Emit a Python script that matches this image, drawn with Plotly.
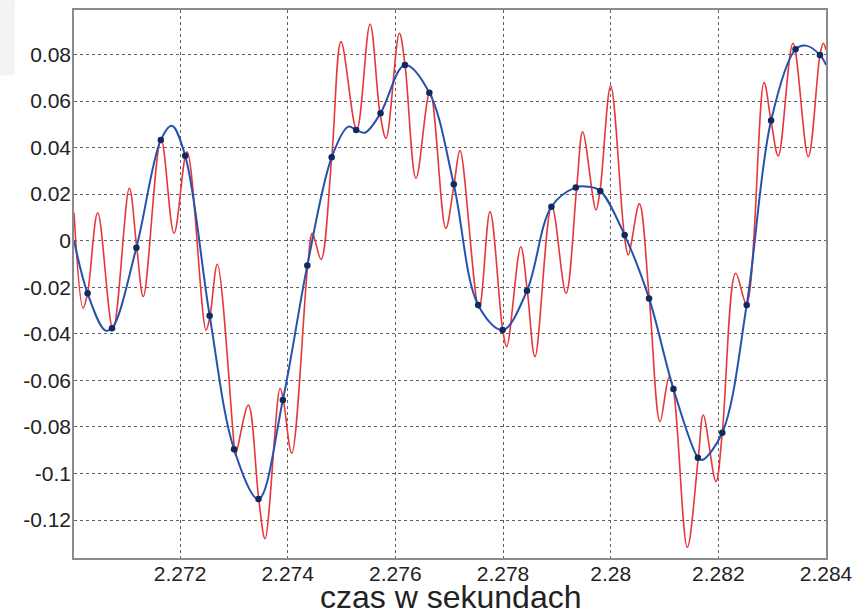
import plotly.graph_objects as go

# Red curve (original signal) - read points: time [s], amplitude
red_t = [2.270031, 2.270198, 2.270282, 2.270471, 2.270755, 2.271058, 2.271196, 2.271318,
         2.271647, 2.271889, 2.272130, 2.272483, 2.272557, 2.272693, 2.273012, 2.273031,
         2.273269, 2.273462, 2.273579, 2.273858, 2.273919, 2.274075, 2.274372, 2.274458,
         2.274619, 2.274818, 2.274991, 2.275282, 2.275529, 2.275715, 2.275827, 2.276074,
         2.276179, 2.276384, 2.276644, 2.276936, 2.277090, 2.277201, 2.277554, 2.277758,
         2.277994, 2.278069, 2.278329, 2.278451, 2.278594, 2.278904, 2.279170, 2.279369,
         2.279480, 2.279727, 2.279802, 2.280000, 2.280253, 2.280327, 2.280532, 2.280717,
         2.280916, 2.281083, 2.281163, 2.281423, 2.281628, 2.281720, 2.281956, 2.282073,
         2.282322, 2.282523, 2.282848, 2.282978, 2.283114, 2.283387, 2.283671, 2.283888,
         2.283950, 2.284000]
red_y = [0.0120, -0.0290, -0.0226, 0.0120, -0.0380, 0.0225, -0.0030, -0.0240,
         0.0436, 0.0032, 0.0382, -0.0384, -0.0322, -0.0101, -0.0896, -0.0920,
         -0.0706, -0.1110, -0.1280, -0.0634, -0.0684, -0.0913, -0.0107, 0.0032,
         -0.0080, 0.0358, 0.0855, 0.0476, 0.0931, 0.0547, 0.0440, 0.0891,
         0.0755, 0.0268, 0.0640, 0.0053, 0.0242, 0.0387, -0.0290, 0.0125,
         -0.0384, -0.0455, -0.0026, -0.0215, -0.0498, 0.0150, -0.0226, 0.0229,
         0.0468, 0.0132, 0.0214, 0.0665, 0.0024, -0.0061, 0.0158, -0.0248,
         -0.0777, -0.0587, -0.0637, -0.1317, -0.0932, -0.0749, -0.1035, -0.0825,
         -0.0140, -0.0272, 0.0679, 0.0516, 0.0364, 0.0848, 0.0361, 0.0798,
         0.0848, 0.0820]

# Sample points (dots)
sample_t = [2.270282, 2.270736, 2.271189, 2.271643, 2.272096, 2.272550, 2.273003, 2.273457,
            2.273910, 2.274364, 2.274817, 2.275271, 2.275724, 2.276178, 2.276631, 2.277085,
            2.277538, 2.277992, 2.278445, 2.278899, 2.279352, 2.279806, 2.280259, 2.280713,
            2.281166, 2.281620, 2.282073, 2.282527, 2.282980, 2.283434, 2.283887]
sample_y = [-0.0226, -0.0376, -0.0030, 0.0433, 0.0365, -0.0322, -0.0896, -0.1110,
            -0.0684, -0.0107, 0.0358, 0.0476, 0.0547, 0.0755, 0.0636, 0.0242,
            -0.0276, -0.0384, -0.0215, 0.0146, 0.0229, 0.0214, 0.0024, -0.0248,
            -0.0637, -0.0932, -0.0825, -0.0276, 0.0516, 0.0822, 0.0798]

# Reconstructed (blue) curve - read points
blue_t = [2.270031, 2.270282, 2.270607, 2.270736, 2.271189, 2.271643, 2.271846, 2.272096,
          2.272550, 2.273003, 2.273457, 2.273910, 2.274364, 2.274817, 2.275127, 2.275271,
          2.275437, 2.275724, 2.276178, 2.276631, 2.277085, 2.277538, 2.277992, 2.278445,
          2.278899, 2.279352, 2.279579, 2.279806, 2.280259, 2.280713, 2.281166, 2.281620,
          2.281696, 2.282073, 2.282527, 2.282980, 2.283434, 2.283628, 2.283887, 2.284000]
blue_y = [0.0000, -0.0226, -0.0385, -0.0376, -0.0030, 0.0433, 0.0494, 0.0365,
          -0.0322, -0.0896, -0.1110, -0.0684, -0.0107, 0.0358, 0.0490, 0.0476,
          0.0464, 0.0547, 0.0755, 0.0636, 0.0242, -0.0276, -0.0384, -0.0215,
          0.0146, 0.0229, 0.0232, 0.0214, 0.0024, -0.0248, -0.0637, -0.0932,
          -0.0942, -0.0825, -0.0276, 0.0516, 0.0822, 0.0838, 0.0798, 0.0755]

x_ticks = [2.272, 2.274, 2.276, 2.278, 2.280, 2.282, 2.284]
x_labels = ["2.272", "2.274", "2.276", "2.278", "2.28", "2.282", "2.284"]
y_ticks = [-0.12, -0.10, -0.08, -0.06, -0.04, -0.02, 0.0, 0.02, 0.04, 0.06, 0.08]
y_labels = ["-0.12", "-0.1", "-0.08", "-0.06", "-0.04", "-0.02", "0", "0.02", "0.04", "0.06", "0.08"]
x_title = "czas w sekundach"

FONT = "Liberation Sans, Arial, Helvetica, sans-serif"

fig = go.Figure()
fig.add_trace(go.Scatter(x=red_t, y=red_y, mode="lines",
                         line=dict(color="#e8373a", width=1.6, shape="spline", smoothing=1.0),
                         showlegend=False, hoverinfo="skip"))
fig.add_trace(go.Scatter(x=blue_t, y=blue_y, mode="lines",
                         line=dict(color="#2652ad", width=2.0, shape="spline", smoothing=1.0),
                         showlegend=False, hoverinfo="skip"))
fig.add_trace(go.Scatter(x=sample_t, y=sample_y, mode="markers",
                         marker=dict(color="#0f2a5e", size=6.5, symbol="circle"),
                         showlegend=False, hoverinfo="skip"))

fig.update_layout(
    width=855, height=614,
    margin=dict(l=74, r=29, t=10, b=56),
    paper_bgcolor="white", plot_bgcolor="white",
    font=dict(family=FONT, color="#222222", size=21),
    shapes=[dict(type="rect", xref="paper", yref="paper",
                 x0=-0.0984, x1=-0.0785, y0=0.881, y1=1.018,
                 fillcolor="#f3f3f3", line=dict(width=0), layer="below")],
    annotations=[dict(text=x_title, xref="paper", yref="paper", x=0.5, y=-0.1077,
                      xanchor="center", yanchor="bottom", showarrow=False,
                      font=dict(size=32, family=FONT, color="#222222"))],
)
fig.update_xaxes(
    range=[2.27003, 2.284],
    tickvals=x_ticks, ticktext=x_labels,
    showgrid=True, gridcolor="#606060", griddash="dot", gridwidth=1,
    showline=True, linecolor="#8a8a8a", linewidth=1.5, mirror=True,
    zeroline=False, ticks="", automargin=False, ticklabelstandoff=-4,
    tickfont=dict(size=21, family=FONT, color="#222222"),
)
fig.update_yaxes(
    range=[-0.1363, 0.0991],
    tickvals=y_ticks, ticktext=y_labels,
    showgrid=True, gridcolor="#606060", griddash="dot", gridwidth=1,
    showline=True, linecolor="#8a8a8a", linewidth=1.5, mirror=True,
    zeroline=False, ticks="", automargin=False, ticklabelstandoff=-3,
    tickfont=dict(size=21, family=FONT, color="#222222"),
)

fig.write_html("out.html")
